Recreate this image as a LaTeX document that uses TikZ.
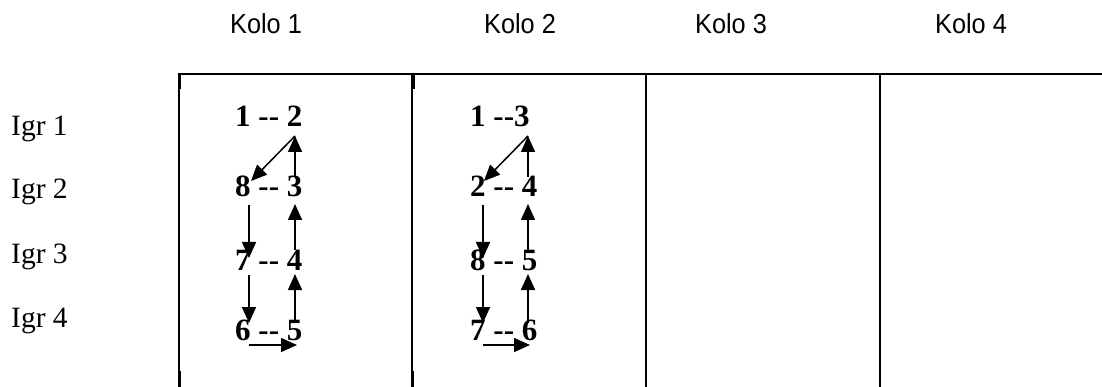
\documentclass[tikz,border=0pt]{standalone}
\usepackage{fontspec}
\setmainfont{Liberation Serif}
\newfontfamily\arialf[FakeStretch=0.92]{Liberation Sans}
\usetikzlibrary{arrows.meta}
\newcommand{\dd}{-\kern0pt-}
\begin{document}
\begin{tikzpicture}[x=1pt,y=-1pt,
  hdr/.style={font=\arialf\fontsize{27.5}{31}\selectfont, inner sep=0pt, anchor=base},
  igr/.style={font=\fontsize{29.5}{33}\selectfont, inner sep=0pt, anchor=base west},
  pair/.style={font=\bfseries\fontsize{31}{35}\selectfont, inner sep=0pt, anchor=base west},
  grid/.style={line width=2pt},
  stub/.style={line width=3pt},
  arr/.style={line width=1.5pt, -{Triangle[length=16pt,width=14pt]}}]
\useasboundingbox (0,0) rectangle (1102,387);
% headers
\node[hdr] (k1) at (266,34) {Kolo 1};
\node[hdr] (k2) at (520,34) {Kolo 2};
\node[hdr] (k3) at (731,34) {Kolo 3};
\node[hdr] (k4) at (971,34) {Kolo 4};
% row labels
\node[igr] (g1) at (11,136) {Igr 1};
\node[igr] (g2) at (11,199) {Igr 2};
\node[igr] (g3) at (11,263) {Igr 3};
\node[igr] (g4) at (11,327) {Igr 4};
% table lines
\draw[grid] (178,74) -- (1102,74);
\draw[grid] (179,74) -- (179,387);
\draw[grid] (412,74) -- (412,387);
\draw[grid] (646,74) -- (646,387);
\draw[grid] (880,74) -- (880,387);
\draw[stub] (179.5,74) -- (179.5,89);
\draw[stub] (413,74) -- (413,89);
\draw[stub] (179.5,371) -- (179.5,387);
\draw[stub] (412.5,371) -- (412.5,387);
% column 1
\node[pair] (a1) at (235,127) {1 \dd{} 2};
\node[pair] (a2) at (235,197) {8 \dd{} 3};
\node[pair] (a3) at (235,270) {7 \dd{} 4};
\node[pair] (a4) at (235,340) {6 \dd{} 5};
% column 2
\node[pair] (b1) at (470,127) {1 \dd3};
\node[pair] (b2) at (470,197) {2 \dd{} 4};
\node[pair] (b3) at (470,270) {8 \dd{} 5};
\node[pair] (b4) at (470,340) {7 \dd{} 6};
% arrow coordinates column 1
\coordinate (aR1) at (295,136);
\coordinate (aR2) at (295,177);
\coordinate (aR2b) at (295,204);
\coordinate (aR3) at (295,250);
\coordinate (aR3b) at (295,274);
\coordinate (aR4) at (295,323);
\coordinate (aL2) at (251,181);
\coordinate (aL2b) at (249,205);
\coordinate (aL3) at (249,258);
\coordinate (aL3b) at (249,275);
\coordinate (aL4) at (249,323);
\coordinate (aH1) at (249,345);
\coordinate (aH2) at (297,345);
\draw[arr] (aR1) -- (aL2);
\draw[arr] (aR2) -- (aR1);
\draw[arr] (aL2b) -- (aL3);
\draw[arr] (aR3) -- (aR2b);
\draw[arr] (aL3b) -- (aL4);
\draw[arr] (aR4) -- (aR3b);
\draw[arr] (aH1) -- (aH2);
% arrow coordinates column 2
\coordinate (bR1) at (528,136);
\coordinate (bR2) at (528,177);
\coordinate (bR2b) at (528,204);
\coordinate (bR3) at (528,250);
\coordinate (bR3b) at (528,274);
\coordinate (bR4) at (528,323);
\coordinate (bL2) at (484,181);
\coordinate (bL2b) at (483,205);
\coordinate (bL3) at (483,258);
\coordinate (bL3b) at (483,275);
\coordinate (bL4) at (483,323);
\coordinate (bH1) at (483,345);
\coordinate (bH2) at (530,345);
\draw[arr] (bR1) -- (bL2);
\draw[arr] (bR2) -- (bR1);
\draw[arr] (bL2b) -- (bL3);
\draw[arr] (bR3) -- (bR2b);
\draw[arr] (bL3b) -- (bL4);
\draw[arr] (bR4) -- (bR3b);
\draw[arr] (bH1) -- (bH2);
\end{tikzpicture}
\end{document}
